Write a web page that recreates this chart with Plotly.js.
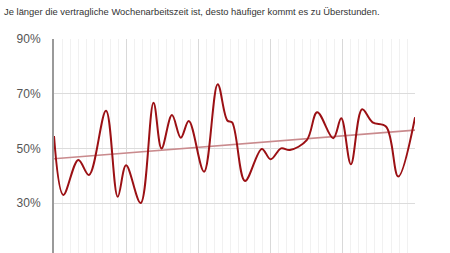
<!DOCTYPE html>
<html>
<head>
<meta charset="utf-8">
<script src="https://cdn.plot.ly/plotly-3.0.1.min.js"></script>
<style>
  html, body { margin: 0; padding: 0; background: #fff; }
  #chart { width: 450px; height: 253px; }
</style>
</head>
<body>
<div id="chart"></div>
<script>
// Share of employees doing overtime (%) along the contractual weekly hours scale
const hoursStep = [
  0, 1.16, 3.03, 4.36, 6.48, 7.94, 8.98, 10.8, 12.4, 13.4,
  14.7, 15.8, 16.8, 18.7, 20.4, 21.6, 22.2, 23.8, 25.9, 27.0,
  28.3, 29.4, 31.5, 32.8, 34.8, 35.8, 37.0, 38.4, 39.7, 41.4,
  42.9, 45
];
const overtimeShare = [
  54.5, 33.0, 45.8, 40.3, 63.8, 32.3, 43.8, 30.0, 66.7, 50.0,
  62.2, 53.9, 60.0, 41.5, 73.5, 60.2, 59.5, 38.1, 49.8, 46.0,
  50.0, 49.4, 53.0, 63.2, 53.7, 61.0, 44.2, 64.3, 59.5, 57.9,
  39.7, 61.4
];

// Linear trend, start and end
const trendSteps = [0, 45];
const trendShare = [46.2, 56.7];

const yTickVals = [10, 30, 50, 70, 90];
const yTickText = ['10%', '30%', '50%', '70%', '90%'];

const titleText = 'Je länger die vertragliche Wochenarbeitszeit ist, desto häufiger kommt es zu Überstunden.';

const traces = [
  {
    x: trendSteps,
    y: trendShare,
    type: 'scatter',
    mode: 'lines',
    line: { color: '#c98a8d', width: 1.6 },
    hoverinfo: 'skip'
  },
  {
    x: hoursStep,
    y: overtimeShare,
    type: 'scatter',
    mode: 'lines',
    line: { color: '#9b1014', width: 2, shape: 'spline', smoothing: 1 }
  }
];

const layout = {
  width: 450,
  height: 253,
  margin: { l: 54, r: 35, t: 39, b: 0 },
  paper_bgcolor: '#ffffff',
  plot_bgcolor: '#ffffff',
  showlegend: false,
  font: { family: '"Liberation Sans", Arial, sans-serif', color: '#555' },
  title: {
    text: titleText,
    font: { size: 9.4, color: '#333', family: '"Liberation Sans", Arial, sans-serif' },
    xref: 'container', yref: 'container',
    x: 0.009, xanchor: 'left',
    y: 0.955, yanchor: 'middle'
  },
  xaxis: {
    range: [0, 44.99],
    showticklabels: false,
    zeroline: false,
    showline: false,
    ticks: '',
    tick0: 0,
    dtick: 9,
    showgrid: true,
    gridcolor: '#d9d9d9',
    gridwidth: 1,
    minor: { dtick: 1, tick0: 0, showgrid: true, gridcolor: '#f1f1f1', gridwidth: 1, ticks: '' }
  },
  yaxis: {
    range: [11.76, 90],
    tickmode: 'array',
    tickvals: yTickVals,
    ticktext: yTickText,
    ticks: '',
    ticklabelstandoff: 9,
    tickfont: { size: 12, color: '#555' },
    showgrid: true,
    gridcolor: '#dcdcdc',
    gridwidth: 1,
    zeroline: false,
    showline: true,
    linecolor: '#9a9a9a',
    linewidth: 2
  }
};

Plotly.newPlot('chart', traces, layout, { displayModeBar: false, staticPlot: true });
</script>
</body>
</html>
